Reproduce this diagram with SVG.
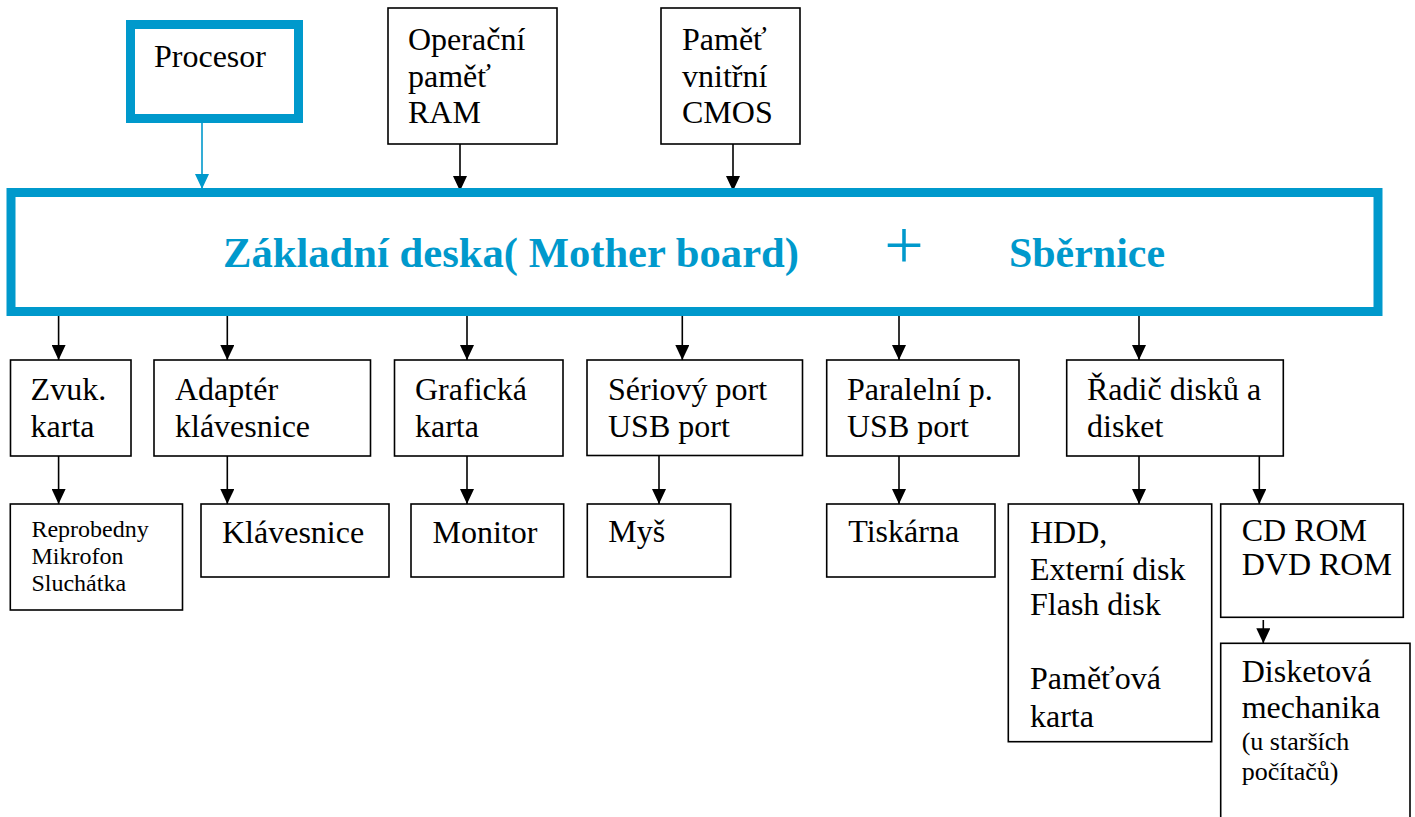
<svg xmlns="http://www.w3.org/2000/svg" width="1415" height="817" viewBox="0 0 1415 817">
<style>
.box{fill:#fff;stroke:#000;stroke-width:1.6}
.bbox{fill:#fff;stroke:#0099CC;stroke-width:9}
.t{font-family:"Liberation Serif","Times New Roman",serif;font-size:32px;fill:#000}
.s{font-family:"Liberation Serif","Times New Roman",serif;font-size:24px;fill:#000}
.s2{font-family:"Liberation Serif","Times New Roman",serif;font-size:26px;fill:#000}
.h{font-family:"Liberation Serif","Times New Roman",serif;font-size:43px;font-weight:bold;fill:#0099CC}
.c{stroke:#000;stroke-width:1.6;fill:none;marker-end:url(#ah)}
.cb{stroke:#0099CC;stroke-width:1.6;fill:none;marker-end:url(#ahb)}
</style>
<defs>
<marker id="ah" viewBox="0 0 15 14" refX="15" refY="7" markerWidth="15" markerHeight="14" markerUnits="userSpaceOnUse" orient="auto"><path d="M0,0 L15,7 L0,14 z" fill="#000"/></marker>
<marker id="ahb" viewBox="0 0 15 14" refX="15" refY="7" markerWidth="15" markerHeight="14" markerUnits="userSpaceOnUse" orient="auto"><path d="M0,0 L15,7 L0,14 z" fill="#0099CC"/></marker>
</defs>
<rect width="1415" height="817" fill="#fff"/>
<g id="connectors">
<line class="cb" x1="202" y1="123" x2="202" y2="189"/>
<line class="c" x1="460" y1="144" x2="460" y2="191"/>
<line class="c" x1="733" y1="144" x2="733" y2="191"/>
<line class="c" x1="58.6" y1="312" x2="58.6" y2="360"/>
<line class="c" x1="227.3" y1="312" x2="227.3" y2="360"/>
<line class="c" x1="467" y1="312" x2="467" y2="360"/>
<line class="c" x1="682.3" y1="312" x2="682.3" y2="360"/>
<line class="c" x1="899" y1="312" x2="899" y2="360"/>
<line class="c" x1="1139" y1="312" x2="1139" y2="360"/>
<line class="c" x1="58.6" y1="456" x2="58.6" y2="504"/>
<line class="c" x1="227.3" y1="456" x2="227.3" y2="504"/>
<line class="c" x1="467" y1="456" x2="467" y2="504"/>
<line class="c" x1="659" y1="455.5" x2="659" y2="504"/>
<line class="c" x1="899" y1="456" x2="899" y2="504"/>
<line class="c" x1="1139" y1="456" x2="1139" y2="504"/>
<line class="c" x1="1259.3" y1="456" x2="1259.3" y2="504"/>
<line class="c" x1="1263.3" y1="620" x2="1263.3" y2="643.3"/>
</g>
<g id="procesor">
<rect class="bbox" x="130.5" y="24.5" width="168" height="94"/>
<text class="t" x="154" y="67">Procesor</text>
</g>
<g id="ram">
<rect class="box" x="388" y="8" width="169" height="136"/>
<text class="t" x="408" y="50">Operační</text>
<text class="t" x="408" y="87">paměť</text>
<text class="t" x="408" y="123">RAM</text>
</g>
<g id="cmos">
<rect class="box" x="661" y="8" width="139" height="136"/>
<text class="t" x="682" y="50">Paměť</text>
<text class="t" x="682" y="87">vnitřní</text>
<text class="t" x="682" y="123">CMOS</text>
</g>
<g id="motherboard">
<rect class="bbox" x="11" y="192.5" width="1367" height="119"/>
<text class="h" x="223" y="267" textLength="576" lengthAdjust="spacingAndGlyphs">Základní deska( Mother board)</text>
<text x="904" y="269" text-anchor="middle" font-family="Liberation Serif, Times New Roman, serif" font-size="70" fill="#0099CC">+</text>
<text class="h" x="1009" y="267" textLength="156" lengthAdjust="spacingAndGlyphs">Sběrnice</text>
</g>
<g id="zvuk">
<rect class="box" x="10.5" y="360" width="120.5" height="96"/>
<text class="t" x="30.6" y="400">Zvuk.</text>
<text class="t" x="30.6" y="437">karta</text>
</g>
<g id="adapter">
<rect class="box" x="154" y="360" width="216.5" height="96"/>
<text class="t" x="175" y="400">Adaptér</text>
<text class="t" x="175" y="437">klávesnice</text>
</g>
<g id="graficka">
<rect class="box" x="394.5" y="360" width="168.5" height="96"/>
<text class="t" x="415" y="400">Grafická</text>
<text class="t" x="415" y="437">karta</text>
</g>
<g id="seriovy">
<rect class="box" x="587" y="360" width="215.5" height="95.5"/>
<text class="t" x="608" y="400">Sériový port</text>
<text class="t" x="608" y="437">USB port</text>
</g>
<g id="paralelni">
<rect class="box" x="826.7" y="360" width="192.3" height="96"/>
<text class="t" x="847" y="400">Paralelní p.</text>
<text class="t" x="847" y="437">USB port</text>
</g>
<g id="radic">
<rect class="box" x="1066.7" y="360" width="216.6" height="96"/>
<text class="t" x="1087" y="400">Řadič disků a</text>
<text class="t" x="1087" y="437">disket</text>
</g>
<g id="reprobedny">
<rect class="box" x="10.3" y="504" width="172.2" height="106"/>
<text class="s" x="31.4" y="537">Reprobedny</text>
<text class="s" x="31.4" y="564">Mikrofon</text>
<text class="s" x="31.4" y="591">Sluchátka</text>
</g>
<g id="klavesnice">
<rect class="box" x="201" y="504" width="188" height="73"/>
<text class="t" x="222" y="543">Klávesnice</text>
</g>
<g id="monitor">
<rect class="box" x="411" y="504" width="152.7" height="73"/>
<text class="t" x="432.5" y="543">Monitor</text>
</g>
<g id="mys">
<rect class="box" x="587.3" y="504" width="143.4" height="73"/>
<text class="t" x="608.3" y="542">Myš</text>
</g>
<g id="tiskarna">
<rect class="box" x="826.7" y="504" width="168.3" height="73"/>
<text class="t" x="848.3" y="542">Tiskárna</text>
</g>
<g id="hdd">
<rect class="box" x="1008.3" y="504" width="203.4" height="237.7"/>
<text class="t" x="1030" y="543">HDD,</text>
<text class="t" x="1030" y="580">Externí disk</text>
<text class="t" x="1030" y="615">Flash disk</text>
<text class="t" x="1030" y="689">Paměťová</text>
<text class="t" x="1030" y="727">karta</text>
</g>
<g id="cdrom">
<rect class="box" x="1220.7" y="504" width="182.6" height="113.3"/>
<text class="t" x="1241.7" y="541">CD ROM</text>
<text class="t" x="1241.7" y="575">DVD ROM</text>
</g>
<g id="disketova">
<rect class="box" x="1220.7" y="643.3" width="189.3" height="200"/>
<text class="t" x="1241.7" y="682">Disketová</text>
<text class="t" x="1241.7" y="718">mechanika</text>
<text class="s2" x="1241.7" y="750">(u starších</text>
<text class="s2" x="1241.7" y="780">počítačů)</text>
</g>
</svg>
